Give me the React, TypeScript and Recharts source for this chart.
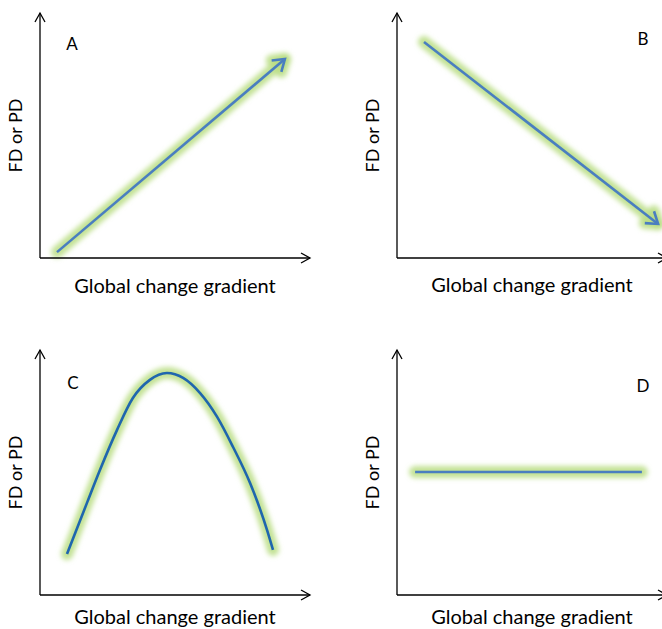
import React from "react";
import { LineChart, Line, XAxis, YAxis, Label } from "recharts";

// values in percent of each panel's plot area (x: left->right, y: bottom->top)
const panelAx = [6.3, 90.7];
const panelAy = [2.4, 81.2];
const panelBx = [10, 96.7];
const panelBy = [88.2, 13.9];
const panelCx = [10, 17.4, 22.2, 28.5, 34.4, 40.7, 47, 53, 59.3, 65.6, 71.5, 77.8, 84.1, 86.3];
const panelCy = [16.7, 37.6, 51, 67.3, 80.4, 87.8, 90.6, 88.6, 82.4, 72.7, 60.4, 45.7, 26.5, 18.4];
const panelDx = [6.7, 90.7];
const panelDy = [50.2, 50.2];

const letters = ["A", "B", "C", "D"];
const xTitle = "Global change gradient";
const yTitle = "FD or PD";

const FONT = "Lato, 'Open Sans', sans-serif";
const BLUE = "#4a7ec0";
const BLUE_DARK = "#1f66ae";
const GLOW = "#b8dd82";

const toRows = (xs: number[], ys: number[]) => xs.map((x, i) => ({ x, y: ys[i] }));

interface PanelProps {
  xs: number[];
  ys: number[];
  letter: string;
  left: number;
  top: number;
  letterX: number;
  letterY: number;
  titleDy: number;
  curve: "linear" | "monotone";
  color: string;
  arrow: boolean;
}

const Panel: React.FC<PanelProps> = ({ xs, ys, letter, left, top, letterX, letterY, titleDy, curve, color, arrow }) => {
  const data = toRows(xs, ys);
  return (
    <div style={{ position: "absolute", left, top, width: 330, height: 300 }}>
      <LineChart width={330} height={300} data={data} margin={{ top: 13, right: 20, bottom: 41, left: 39 }}>
        <XAxis
          type="number"
          dataKey="x"
          domain={[0, 100]}
          height={1}
          tick={false}
          tickLine={false}
          axisLine={{ stroke: "#000", strokeWidth: 1.3, markerEnd: "url(#axisArrow)" } as any}
        >
          <Label value={xTitle} position="center" dy={titleDy} style={{ fontFamily: FONT, fontSize: 20, fill: "#000" }} />
        </XAxis>
        <YAxis
          type="number"
          dataKey="y"
          domain={[0, 100]}
          width={1}
          tick={false}
          tickLine={false}
          axisLine={{ stroke: "#000", strokeWidth: 1.3, markerStart: "url(#axisArrow)" } as any}
        >
          <Label value={yTitle} position="center" angle={-90} dx={-24} style={{ fontFamily: FONT, fontSize: 18, fill: "#000" }} />
        </YAxis>
        {/* soft green halo under the line */}
        <Line
          type={curve}
          dataKey="y"
          stroke={GLOW}
          strokeWidth={12}
          strokeOpacity={0.85}
          strokeLinecap="round"
          filter="url(#glowBlur)"
          markerEnd={arrow ? "url(#glowArrow)" : undefined}
          dot={false}
          activeDot={false}
          isAnimationActive={false}
        />
        <Line
          type={curve}
          dataKey="y"
          stroke={color}
          strokeWidth={2.6}
          markerEnd={arrow ? "url(#blueArrow)" : undefined}
          dot={false}
          activeDot={false}
          isAnimationActive={false}
        />
      </LineChart>
      <div
        style={{
          position: "absolute",
          left: letterX,
          top: letterY,
          transform: "translate(-50%, -50%)",
          fontFamily: FONT,
          fontSize: 17,
          lineHeight: "17px",
          color: "#000",
        }}
      >
        {letter}
      </div>
    </div>
  );
};

export default function App() {
  return (
    <div
      style={{
        position: "absolute",
        left: 0,
        top: 0,
        width: 662,
        height: 629,
        overflow: "hidden",
        background: "#fff",
      }}
    >
      <svg width={0} height={0} style={{ position: "absolute" }}>
        <defs>
          <marker
            id="axisArrow"
            markerUnits="userSpaceOnUse"
            viewBox="0 0 14 14"
            markerWidth={14}
            markerHeight={14}
            refX={11}
            refY={7}
            orient="auto-start-reverse"
          >
            <path d="M2,2 L11,7 L2,12" fill="none" stroke="#000" strokeWidth={1.3} />
          </marker>
          <marker
            id="blueArrow"
            markerUnits="userSpaceOnUse"
            viewBox="0 0 20 20"
            markerWidth={20}
            markerHeight={20}
            refX={16}
            refY={10}
            orient="auto"
          >
            <path d="M5,2.5 L16,10 L5,17.5" fill="none" stroke={BLUE} strokeWidth={2.6} />
          </marker>
          <marker
            id="glowArrow"
            markerUnits="userSpaceOnUse"
            viewBox="0 0 32 32"
            markerWidth={32}
            markerHeight={32}
            refX={22}
            refY={16}
            orient="auto"
          >
            <path
              d="M11,8.5 L22,16 L11,23.5"
              fill="none"
              stroke={GLOW}
              strokeOpacity={0.85}
              strokeWidth={12}
              strokeLinecap="round"
              strokeLinejoin="round"
            />
          </marker>
          <filter id="glowBlur" filterUnits="userSpaceOnUse" x={-50} y={-50} width={500} height={500}>
            <feGaussianBlur stdDeviation={2.6} />
          </filter>
        </defs>
      </svg>
      <Panel xs={panelAx} ys={panelAy} letter={letters[0]} left={0} top={0} letterX={72} letterY={43} titleDy={27} curve="linear" color={BLUE} arrow />
      <Panel xs={panelBx} ys={panelBy} letter={letters[1]} left={357} top={0} letterX={286} letterY={38} titleDy={26} curve="linear" color={BLUE} arrow />
      <Panel xs={panelCx} ys={panelCy} letter={letters[2]} left={0} top={337} letterX={73} letterY={45} titleDy={21} curve="monotone" color={BLUE_DARK} arrow={false} />
      <Panel xs={panelDx} ys={panelDy} letter={letters[3]} left={357} top={337} letterX={286} letterY={48} titleDy={21} curve="linear" color={BLUE} arrow={false} />
    </div>
  );
}
